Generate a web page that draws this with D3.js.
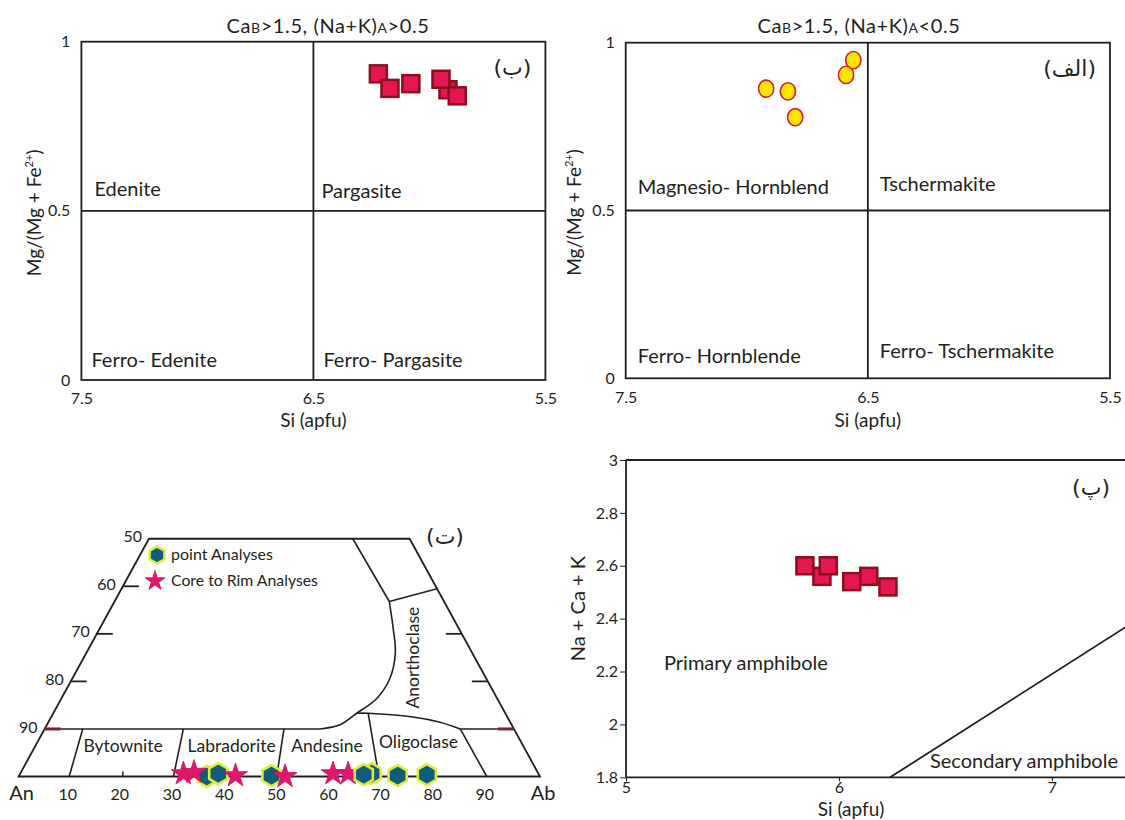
<!DOCTYPE html>
<html lang="fa">
<head>
    <meta charset="UTF-8">
    <title>Amphibole and plagioclase classification</title>
    <script src="https://cdnjs.cloudflare.com/ajax/libs/d3/7.8.5/d3.min.js"></script>
    <style>
        body { margin: 0; background: #fff; }
        text { font-family: Lato, "DejaVu Sans", sans-serif; fill: #231f20; }
        .rtl { font-family: "DejaVu Sans", sans-serif; }
    </style>
</head>
<body>
<div id="chart"></div>
<script>
    // (ب) CaB>1.5, (Na+K)A>0.5  -- Si vs Mg/(Mg+Fe2+)
    const siPargasite = [6.22, 6.17, 6.08, 5.92, 5.95, 5.88];
    const mgPargasite = [0.905, 0.862, 0.876, 0.858, 0.889, 0.840];

    // (الف) CaB>1.5, (Na+K)A<0.5
    const siHornblende = [6.92, 6.83, 6.80, 6.56, 6.59];
    const mgHornblende = [0.863, 0.855, 0.778, 0.948, 0.904];

    // (پ) Si vs Na+Ca+K
    const siAmph = [5.92, 5.84, 5.95, 6.06, 6.14, 6.23];
    const nckAmph = [2.56, 2.60, 2.60, 2.54, 2.56, 2.52];
    const amphLimit = [[6.24, 1.8], [7.35, 2.37]];

    // (ت) feldspar, Ab % and Or %
    const starAb = [31.3, 33.2, 41.5, 51.1, 60.0, 62.9];
    const starOr = [0.6, 0.9, 0.2, 0, 0.6, 0.6];
    const hexAb = [36.1, 38.0, 48.4, 67.4, 66.0, 72.6, 78.1];
    const hexOr = [0, 0.6, 0.2, 0.6, 0.4, 0.2, 0.4];

    // tick labels
    const siTicks = [7.5, 6.5, 5.5];
    const mgTicks = [0, 0.5, 1];
    const siTicksP = [5, 6, 7];
    const nckTicks = [1.8, 2, 2.2, 2.4, 2.6, 2.8, 3];
    const anSideTicks = [50, 60, 70, 80, 90];
    const abBaseTicks = [10, 20, 30, 40, 50, 60, 70, 80, 90];

    // feldspar field boundaries, [Ab, Or]
    const fieldLines = [
        [[0, 10], [52.8, 10]],
        [[79.7, 10], [90, 10]],
        [[9.7, 0], [7.3, 10]],
        [[29.7, 0], [26.6, 10]],
        [[49.5, 0], [45.9, 10]],
        [[69.1, 0], [60.4, 13.3]],
        [[89.8, 0], [79.7, 10]],
        [[39.1, 50], [52.7, 36.8]],
        [[52.7, 36.8], [60.5, 39.5]]
    ];
    const solvus = [[52.8, 10], [56.2, 10.9], [58.2, 13.3], [60.5, 16.4], [60.9, 20.6], [59.3, 25.9], [56.3, 31.1], [52.7, 36.8]];
    const oligoclaseTop = [[58.2, 13.3], [60.4, 13.3], [69.4, 12.5], [75.1, 11.4], [79.7, 10]];

    const ink = "#231f20";
    const maroon = "#7d1f35";
    const svg = d3.select("#chart").append("svg")
        .attr("width", 1125)
        .attr("height", 820);

    function styleAxis(g, size) {
        g.attr("font-family", null).attr("font-size", size);
        g.select(".domain").remove();
        g.selectAll(".tick line").attr("stroke", ink);
        g.selectAll(".tick text").attr("fill", ink);
    }

    function drawSquares(g, x, y, xs, ys) {
        g.selectAll("rect.pt")
            .data(xs.map((d, i) => [d, ys[i]]))
            .join("rect")
            .attr("class", "pt")
            .attr("x", d => x(d[0]) - 8.5)
            .attr("y", d => y(d[1]) - 8.5)
            .attr("width", 17)
            .attr("height", 17)
            .attr("fill", "#e4184f")
            .attr("stroke", "#8c0f1f")
            .attr("stroke-width", 2.5);
    }

    function mgLabel(g, bx, cy) {
        const t = g.append("text")
            .attr("transform", `translate(${bx},${cy}) rotate(-90)`)
            .attr("text-anchor", "middle")
            .attr("font-size", 19);
        t.append("tspan").text("Mg/(Mg + Fe");
        t.append("tspan").attr("font-size", 11).attr("dy", -8).text("2+");
        t.append("tspan").attr("dy", 8).text(")");
    }

    function title(g, cx, by, sign) {
        const t = g.append("text")
            .attr("x", cx).attr("y", by)
            .attr("text-anchor", "middle")
            .attr("font-size", 20)
            .attr("letter-spacing", 0.6);
        t.append("tspan").text("Ca");
        t.append("tspan").attr("font-size", 14).text("B");
        t.append("tspan").text(">1.5, (Na+K)");
        t.append("tspan").attr("font-size", 14).text("A");
        t.append("tspan").text(sign + "0.5");
    }

    function quadPanel(cfg) {
        const g = svg.append("g");
        const x = d3.scaleLinear().domain([7.5, 5.5]).range(cfg.xr);
        const y = d3.scaleLinear().domain([0, 1]).range(cfg.yr);

        g.append("rect")
            .attr("x", x(7.5)).attr("y", y(1))
            .attr("width", x(5.5) - x(7.5)).attr("height", y(0) - y(1))
            .attr("fill", "none").attr("stroke", ink).attr("stroke-width", 1.8);
        g.append("line")
            .attr("x1", x(6.5)).attr("x2", x(6.5)).attr("y1", y(0)).attr("y2", y(1))
            .attr("stroke", ink).attr("stroke-width", 1.8);
        g.append("line")
            .attr("x1", x(7.5)).attr("x2", x(5.5)).attr("y1", y(0.5)).attr("y2", y(0.5))
            .attr("stroke", ink).attr("stroke-width", 1.8);

        g.append("g")
            .attr("transform", `translate(0,${y(0)})`)
            .call(d3.axisBottom(x).tickValues(siTicks).tickSize(0).tickPadding(13).tickFormat(d3.format(".1f")))
            .call(styleAxis, 16);
        g.append("g")
            .attr("transform", `translate(${x(7.5)},0)`)
            .call(d3.axisLeft(y).tickValues(mgTicks).tickSize(0).tickPadding(11).tickFormat(d => String(d)))
            .call(styleAxis, 16);

        title(g, cfg.titleX, 33, cfg.sign);
        mgLabel(g, cfg.yLabelX, y(0.5) + 2);
        g.append("text")
            .attr("x", x(6.5)).attr("y", 427)
            .attr("text-anchor", "middle").attr("font-size", 19)
            .text("Si (apfu)");

        cfg.fields.forEach(f => {
            g.append("text")
                .attr("x", x(f.si) + f.dx).attr("y", y(f.mg) + f.dy)
                .attr("font-size", 20)
                .text(f.name);
        });

        g.append("text")
            .attr("class", "rtl")
            .attr("x", x(5.5) - 14).attr("y", y(1) + 33)
            .attr("text-anchor", "end").attr("font-size", 22)
            .text(cfg.tag);

        return { g, x, y };
    }

    // ---------- (ب) ----------
    const p1 = quadPanel({
        xr: [81.4, 545.4], yr: [380, 41.7], titleX: 328, yLabelX: 41, sign: ">", tag: "(ب)",
        fields: [
            { name: "Edenite", si: 7.5, mg: 0.5, dx: 13, dy: -15 },
            { name: "Pargasite", si: 6.5, mg: 0.5, dx: 8, dy: -13 },
            { name: "Ferro- Edenite", si: 7.5, mg: 0, dx: 10, dy: -13 },
            { name: "Ferro- Pargasite", si: 6.5, mg: 0, dx: 10, dy: -13 }
        ]
    });
    drawSquares(p1.g, p1.x, p1.y, siPargasite, mgPargasite);

    // ---------- (الف) ----------
    const p2 = quadPanel({
        xr: [625.7, 1110], yr: [378.3, 42.7], titleX: 859, yLabelX: 581, sign: "<", tag: "(الف)",
        fields: [
            { name: "Magnesio- Hornblend", si: 7.5, mg: 0.5, dx: 12, dy: -17 },
            { name: "Tschermakite", si: 6.5, mg: 0.5, dx: 12, dy: -20 },
            { name: "Ferro- Hornblende", si: 7.5, mg: 0, dx: 12, dy: -15 },
            { name: "Ferro- Tschermakite", si: 6.5, mg: 0, dx: 12, dy: -20 }
        ]
    });
    p2.g.selectAll("ellipse")
        .data(siHornblende.map((d, i) => [d, mgHornblende[i]]))
        .join("ellipse")
        .attr("cx", d => p2.x(d[0]))
        .attr("cy", d => p2.y(d[1]))
        .attr("rx", 7.6).attr("ry", 8.6)
        .attr("fill", "#ffe600")
        .attr("stroke", "#d4202c")
        .attr("stroke-width", 1.6);

    // ---------- (پ) ----------
    {
        const g = svg.append("g");
        const x = d3.scaleLinear().domain([5, 7.35]).range([626, 1126.5]);
        const y = d3.scaleLinear().domain([1.8, 3]).range([777.3, 460]);

        g.append("line")
            .attr("x1", x(5)).attr("x2", x(7.35)).attr("y1", y(3)).attr("y2", y(3))
            .attr("stroke", ink).attr("stroke-width", 2.2);

        g.append("g")
            .attr("transform", `translate(0,${y(1.8)})`)
            .call(d3.axisBottom(x).tickValues(siTicksP).tickSize(4).tickPadding(0).tickFormat(d => String(d)))
            .call(styleAxis, 16);
        g.append("g")
            .attr("transform", `translate(${x(5)},0)`)
            .call(d3.axisLeft(y).tickValues(nckTicks).tickSize(6).tickPadding(2).tickFormat(d => String(d)))
            .call(styleAxis, 16);
        g.append("line")
            .attr("x1", x(5)).attr("x2", x(7.35)).attr("y1", y(1.8)).attr("y2", y(1.8))
            .attr("stroke", ink).attr("stroke-width", 1.8);
        g.append("line")
            .attr("x1", x(5)).attr("x2", x(5)).attr("y1", y(1.8)).attr("y2", y(3))
            .attr("stroke", ink).attr("stroke-width", 1.8);

        g.append("path")
            .attr("d", d3.line().x(d => x(d[0])).y(d => y(d[1]))(amphLimit))
            .attr("fill", "none").attr("stroke", ink).attr("stroke-width", 1.8);

        g.append("text")
            .attr("x", 664).attr("y", 670).attr("font-size", 20)
            .text("Primary amphibole");
        g.append("text")
            .attr("x", 930).attr("y", 768).attr("font-size", 20)
            .text("Secondary amphibole");

        g.append("text")
            .attr("transform", `translate(585,${y(2.4) - 10}) rotate(-90)`)
            .attr("text-anchor", "middle").attr("font-size", 20)
            .text("Na + Ca + K");
        g.append("text")
            .attr("x", 851).attr("y", 816)
            .attr("text-anchor", "middle").attr("font-size", 19)
            .text("Si (apfu)");
        g.append("text")
            .attr("class", "rtl")
            .attr("x", 1110).attr("y", 495)
            .attr("text-anchor", "end").attr("font-size", 22)
            .text("(پ)");

        drawSquares(g, x, y, siAmph, nckAmph);
    }

    // ---------- (ت) ternary An-Ab-Or, cut at Or 50 ----------
    {
        const g = svg.append("g");
        const tx = d3.scaleLinear().domain([0, 100]).range([18.6, 540]);
        const ty = d3.scaleLinear().domain([0, 100]).range([776.5, 301]);
        const tern = (ab, or) => [tx(ab + or / 2), ty(or)];
        const tline = d3.line().x(d => tern(d[0], d[1])[0]).y(d => tern(d[0], d[1])[1]);

        g.append("path")
            .attr("d", tline.curve(d3.curveLinearClosed)([[0, 0], [100, 0], [50, 50], [0, 50]]))
            .attr("fill", "none").attr("stroke", ink).attr("stroke-width", 1.8);
        tline.curve(d3.curveLinear);

        fieldLines.forEach(seg => {
            g.append("path").attr("d", tline(seg))
                .attr("fill", "none").attr("stroke", ink).attr("stroke-width", 1.6);
        });
        const curvy = d3.line().x(d => tern(d[0], d[1])[0]).y(d => tern(d[0], d[1])[1]).curve(d3.curveCatmullRom);
        [solvus, oligoclaseTop].forEach(c => {
            g.append("path").attr("d", curvy(c))
                .attr("fill", "none").attr("stroke", ink).attr("stroke-width", 1.6);
        });

        // side ticks (left = An, right = Ab side), Or level = 100 - An
        anSideTicks.forEach(an => {
            const or = 100 - an;
            const [lx, ly] = tern(0, or);
            if (an > 50) {
                g.append("line")
                    .attr("x1", lx).attr("x2", lx + 16).attr("y1", ly).attr("y2", ly)
                    .attr("stroke", an === 90 ? maroon : ink).attr("stroke-width", an === 90 ? 3 : 1.8);
            }
            g.append("text")
                .attr("x", lx - 7).attr("y", ly - 2)
                .attr("dy", "0.35em").attr("text-anchor", "end").attr("font-size", 16)
                .text(an);
            if (an >= 70) {
                const [rx, ry] = tern(100 - or, or);
                g.append("line")
                    .attr("x1", rx - 16).attr("x2", rx).attr("y1", ry).attr("y2", ry)
                    .attr("stroke", an === 90 ? maroon : ink).attr("stroke-width", an === 90 ? 3 : 1.8);
            }
        });

        // base tick at 20 and base labels
        g.append("line")
            .attr("x1", tx(20)).attr("x2", tx(20)).attr("y1", ty(0)).attr("y2", ty(0) - 5)
            .attr("stroke", ink).attr("stroke-width", 1.5);
        abBaseTicks.forEach(v => {
            g.append("text")
                .attr("x", tx(v) - 3).attr("y", 800)
                .attr("text-anchor", "middle").attr("font-size", 16)
                .text(v);
        });
        g.append("text").attr("x", tx(0) + 3).attr("y", 800)
            .attr("text-anchor", "middle").attr("font-size", 20).text("An");
        g.append("text").attr("x", tx(100) + 3).attr("y", 800)
            .attr("text-anchor", "middle").attr("font-size", 20).text("Ab");

        // field names
        [["Bytownite", 17.5, 5.1], ["Labradorite", 38.3, 5.1], ["Andesine", 56.6, 5.1], ["Oligoclase", 73.7, 6.0]]
            .forEach(([name, ab, or]) => {
                const [px, py] = tern(ab, or);
                g.append("text").attr("x", px).attr("y", py)
                    .attr("text-anchor", "middle").attr("font-size", 17.5).text(name);
            });
        {
            const [px, py] = tern(63.1, 25);
            g.append("text")
                .attr("transform", `translate(${px + 6},${py}) rotate(-90)`)
                .attr("text-anchor", "middle").attr("font-size", 17.5)
                .text("Anorthoclase");
        }

        const hexPath = r => d3.line()(d3.range(6).map(i => {
            const a = Math.PI / 3 * i - Math.PI / 2;
            return [r * Math.cos(a), r * Math.sin(a)];
        })) + "Z";
        const star = size => d3.symbol(d3.symbolStar, size)();

        const hexData = hexAb.map((d, i) => [d, hexOr[i]]);
        const starData = starAb.map((d, i) => [d, starOr[i]]);

        function hexes(data) {
            g.append("g").selectAll("path")
                .data(data)
                .join("path")
                .attr("d", hexPath(10.5))
                .attr("transform", d => `translate(${tern(d[0], d[1])})`)
                .attr("fill", "#0e5d7c")
                .attr("stroke", "#e1ec3a")
                .attr("stroke-width", 2.6);
        }
        hexes(hexData.filter(d => d[0] < 55));
        g.append("g").selectAll("path")
            .data(starData)
            .join("path")
            .attr("d", star(180))
            .attr("transform", d => `translate(${tern(d[0], d[1])})`)
            .attr("fill", "#e0166e")
            .attr("stroke", "#c80f5e")
            .attr("stroke-width", 0.8);
        hexes(hexData.filter(d => d[0] >= 55));

        // legend
        g.append("path").attr("d", hexPath(8.5)).attr("transform", "translate(157,555)")
            .attr("fill", "#0e5d7c").attr("stroke", "#e1ec3a").attr("stroke-width", 2.4);
        g.append("path").attr("d", star(120)).attr("transform", "translate(155,581)")
            .attr("fill", "#e0166e").attr("stroke", "#c80f5e").attr("stroke-width", 0.8);
        g.append("text").attr("x", 171).attr("y", 560).attr("font-size", 16).text("point Analyses");
        g.append("text").attr("x", 171).attr("y", 586).attr("font-size", 15.8).text("Core to Rim Analyses");

        g.append("text")
            .attr("class", "rtl")
            .attr("x", 445).attr("y", 544)
            .attr("text-anchor", "middle").attr("font-size", 22)
            .text("(ت)");
    }
</script>
</body>
</html>
